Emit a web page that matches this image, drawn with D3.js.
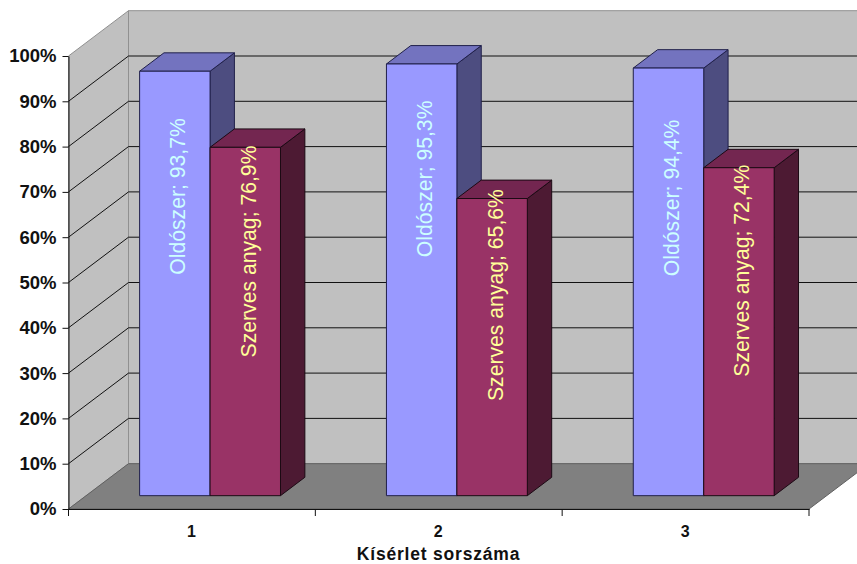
<!DOCTYPE html>
<html>
  <head>
    <meta charset="utf-8">
    <title>Kísérlet sorszáma</title>
    <script src="https://d3js.org/d3.v7.min.js"></script>
    <style>
      html, body { margin: 0; background: #fff; }
      svg { display: block; font-family: "Liberation Sans", Arial, sans-serif; }
      .tickY text { font-size: 18.5px; font-weight: bold; fill: #111; }
      .tickX text { font-size: 16px; font-weight: bold; fill: #111; }
      .axisTitle { font-size: 17.5px; font-weight: bold; fill: #111; text-anchor: middle; letter-spacing: 0.8px; }
      .barLabel { font-size: 21.2px; text-anchor: middle; dominant-baseline: central; }
    </style>
  </head>
  <body>
    <svg id="chart" width="857" height="564"></svg>
    <script>
      // chart data
      const categories = ["1", "2", "3"];
      const seriesNames = ["Oldószer", "Szerves anyag"];
      const solvent = [93.7, 95.3, 94.4];
      const organic = [76.9, 65.6, 72.4];
      const yTicks = [0, 10, 20, 30, 40, 50, 60, 70, 80, 90, 100];
      const axisTitle = "Kísérlet sorszáma";

      // colours of each series: front, top, side, label
      const palette = [
        { front: "#9999ff", top: "#7373bf", side: "#4d4d80", edge: "#20204a", label: "#ccffff" },
        { front: "#993366", top: "#732650", side: "#4d1a33", edge: "#1c0a14", label: "#ffff99" }
      ];
      // hand placed data labels, pixels above the middle of the bar front
      const labelLift = [[87, 101, 84], [70, 52, 61]];

      const svg = d3.select("#chart");

      const y = d3.scaleLinear().domain([0, 100]).range([509, 56]);
      const x = d3.scaleBand().domain(categories).range([68.5, 809]);
      const xBar = d3.scaleBand().domain(seriesNames).range([0.5, x.bandwidth() + 0.5])
        .paddingInner(0).paddingOuter(0.752);

      // oblique projection: depth 0 is the front plane, 1 the back wall
      const depthX = 60, depthY = -45.3;
      const barNear = 0.294, barFar = 0.7;
      function project(px, py, depth) {
        return [px + depth * depthX, py + depth * depthY];
      }
      function poly(points) {
        return points.map(function(p) { return p.join(","); }).join(" ");
      }

      const x0 = x.range()[0], x1 = x.range()[1];
      const yBottom = y(0), yTop = y(100);

      // walls and floor
      const walls = svg.append("g");
      walls.append("polygon")
        .attr("points", poly([project(x0, yBottom, 1), project(x1, yBottom, 1), project(x1, yTop, 1), project(x0, yTop, 1)]))
        .attr("fill", "#c0c0c0").attr("stroke", "#909090");
      walls.append("polygon")
        .attr("points", poly([[x0, yBottom], project(x0, yBottom, 1), project(x0, yTop, 1), [x0, yTop]]))
        .attr("fill", "#c0c0c0").attr("stroke", "#909090");
      walls.append("polygon")
        .attr("points", poly([[x0, yBottom], [x1, yBottom], project(x1, yBottom, 1), project(x0, yBottom, 1)]))
        .attr("fill", "#808080").attr("stroke", "#606060");

      // gridlines on left and back wall
      const grid = svg.append("g").attr("fill", "none").attr("stroke", "#111").attr("stroke-width", 1);
      yTicks.filter(function(d) { return d > 0 && d < 100; }).forEach(function(d) {
        const a = [x0, y(d)], b = project(x0, y(d), 1), c = project(x1, y(d), 1);
        grid.append("polyline").attr("points", poly([a, b, c]));
      });

      // bars
      const bars = svg.append("g").attr("stroke-linejoin", "round");
      categories.forEach(function(cat, i) {
        [solvent, organic].forEach(function(values, s) {
          const left = x(cat) + xBar(seriesNames[s]);
          const right = left + xBar.bandwidth();
          const c = palette[s];
          // the bar stands on the floor at barNear..barFar depth
          const fl = project(left, y(0), barNear), fr = project(right, y(0), barNear);
          const h = y(0) - y(values[i]);
          const tl = [fl[0], fl[1] - h], tr = [fr[0], fr[1] - h];
          const d = barFar - barNear;
          const g = bars.append("g").attr("stroke", c.edge);
          g.append("polygon")
            .attr("points", poly([tr, fr, project(fr[0], fr[1], d), project(tr[0], tr[1], d)]))
            .attr("fill", c.side);
          g.append("polygon")
            .attr("points", poly([tl, tr, project(tr[0], tr[1], d), project(tl[0], tl[1], d)]))
            .attr("fill", c.top);
          g.append("rect")
            .attr("x", tl[0]).attr("y", tl[1])
            .attr("width", right - left).attr("height", h)
            .attr("fill", c.front);
        });
      });

      // data labels run up the bar fronts
      categories.forEach(function(cat, i) {
        [solvent, organic].forEach(function(values, s) {
          const left = x(cat) + xBar(seriesNames[s]);
          const front = project(left + xBar.bandwidth() / 2, y(0), barNear);
          const h = y(0) - y(values[i]);
          const cx = front[0] + 3, cy = front[1] - h / 2 - labelLift[s][i];
          svg.append("text")
            .attr("class", "barLabel")
            .attr("transform", "translate(" + cx + "," + cy + ") rotate(-90)")
            .attr("fill", palette[s].label)
            .text(seriesNames[s] + "; " + String(values[i]).replace(".", ",") + "%");
        });
      });

      // axes
      const yAxis = d3.axisLeft(y)
        .tickValues(yTicks)
        .tickFormat(function(d) { return d + "%"; })
        .tickSizeInner(6).tickSizeOuter(0).tickPadding(6);
      const yAxisGroup = svg.append("g").attr("class", "tickY").attr("transform", "translate(" + x0 + ",0)").call(yAxis);
      yAxisGroup.selectAll("line, path").attr("stroke", "#111");

      const xEdges = d3.axisBottom(x).tickValues([]).tickSizeOuter(0);
      const xAxisGroup = svg.append("g").attr("class", "tickX").attr("transform", "translate(0," + yBottom + ")").call(xEdges);
      xAxisGroup.select("path").attr("stroke", "#111");
      categories.forEach(function(cat, i) {
        const px = x(cat);
        xAxisGroup.append("line").attr("x1", px).attr("x2", px).attr("y2", 7).attr("stroke", "#111");
        if (i === categories.length - 1) {
          xAxisGroup.append("line").attr("x1", px + x.step()).attr("x2", px + x.step()).attr("y2", 7).attr("stroke", "#111");
        }
        xAxisGroup.append("text")
          .attr("x", px + x.bandwidth() / 2 - 0.5).attr("y", 27.5)
          .attr("text-anchor", "middle")
          .text(cat);
      });

      svg.append("text")
        .attr("class", "axisTitle")
        .attr("x", 438.5).attr("y", 560)
        .text(axisTitle);
    </script>
  </body>
</html>
